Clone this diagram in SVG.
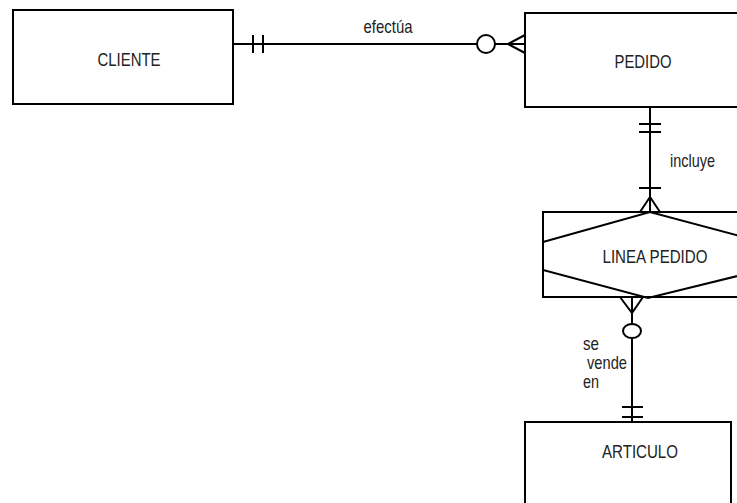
<svg xmlns="http://www.w3.org/2000/svg" width="737" height="503" viewBox="0 0 737 503">
<style>
.box{fill:#fff;stroke:#000;stroke-width:2}
.ln{fill:none;stroke:#000;stroke-width:2}
text{font-family:"Liberation Sans",Arial,sans-serif;font-size:19px;fill:#222}
.c{text-anchor:middle}
</style>
<rect width="737" height="503" fill="#fff"/>
<g id="connectors">
<g id="efectua">
<line class="ln" x1="229" y1="44" x2="477" y2="44"/>
<line class="ln" x1="253" y1="35" x2="253" y2="53"/>
<line class="ln" x1="263" y1="35" x2="263" y2="53"/>
<circle class="ln" cx="486" cy="44" r="9"/>
<line class="ln" x1="495" y1="44" x2="525" y2="44"/>
<polyline class="ln" points="525,35 508,44 525,53"/>
<text class="c" x="388" y="33" textLength="49" lengthAdjust="spacingAndGlyphs">efectúa</text>
</g>
<g id="incluye">
<line class="ln" x1="650" y1="107" x2="650" y2="212"/>
<line class="ln" x1="639" y1="124" x2="661" y2="124"/>
<line class="ln" x1="639" y1="132" x2="661" y2="132"/>
<line class="ln" x1="639" y1="188" x2="661" y2="188"/>
<polyline class="ln" points="640,212 650,197 660,212"/>
<text x="670" y="167" textLength="45" lengthAdjust="spacingAndGlyphs">incluye</text>
</g>
<g id="sevende">
<polyline class="ln" points="620,297 632,313 643,297"/>
<line class="ln" x1="632" y1="297" x2="632" y2="324"/>
<ellipse class="ln" cx="632" cy="331" rx="9" ry="7"/>
<line class="ln" x1="632" y1="338" x2="632" y2="422"/>
<line class="ln" x1="622" y1="407" x2="643" y2="407"/>
<line class="ln" x1="622" y1="417" x2="643" y2="417"/>
<text x="583" y="350" textLength="16" lengthAdjust="spacingAndGlyphs">se</text>
<text x="587" y="369" textLength="40" lengthAdjust="spacingAndGlyphs">vende</text>
<text x="583" y="388" textLength="16" lengthAdjust="spacingAndGlyphs">en</text>
</g>
</g>
<g id="cliente">
<rect class="box" x="13" y="10" width="220" height="94"/>
<text class="c" x="129" y="66" textLength="63" lengthAdjust="spacingAndGlyphs">CLIENTE</text>
</g>
<g id="pedido">
<rect class="box" x="525" y="13" width="240" height="94"/>
<text class="c" x="643" y="68" textLength="57" lengthAdjust="spacingAndGlyphs">PEDIDO</text>
</g>
<g id="linea-pedido">
<rect class="box" x="543" y="212" width="224" height="85"/>
<polygon class="ln" points="543,242 650,212 762,242 762,270 648,298 543,270"/>
<text class="c" x="655" y="263" textLength="105" lengthAdjust="spacingAndGlyphs">LINEA PEDIDO</text>
</g>
<g id="articulo">
<rect class="box" x="525" y="422" width="206" height="100"/>
<text class="c" x="640" y="458" textLength="76" lengthAdjust="spacingAndGlyphs">ARTICULO</text>
</g>
</svg>
